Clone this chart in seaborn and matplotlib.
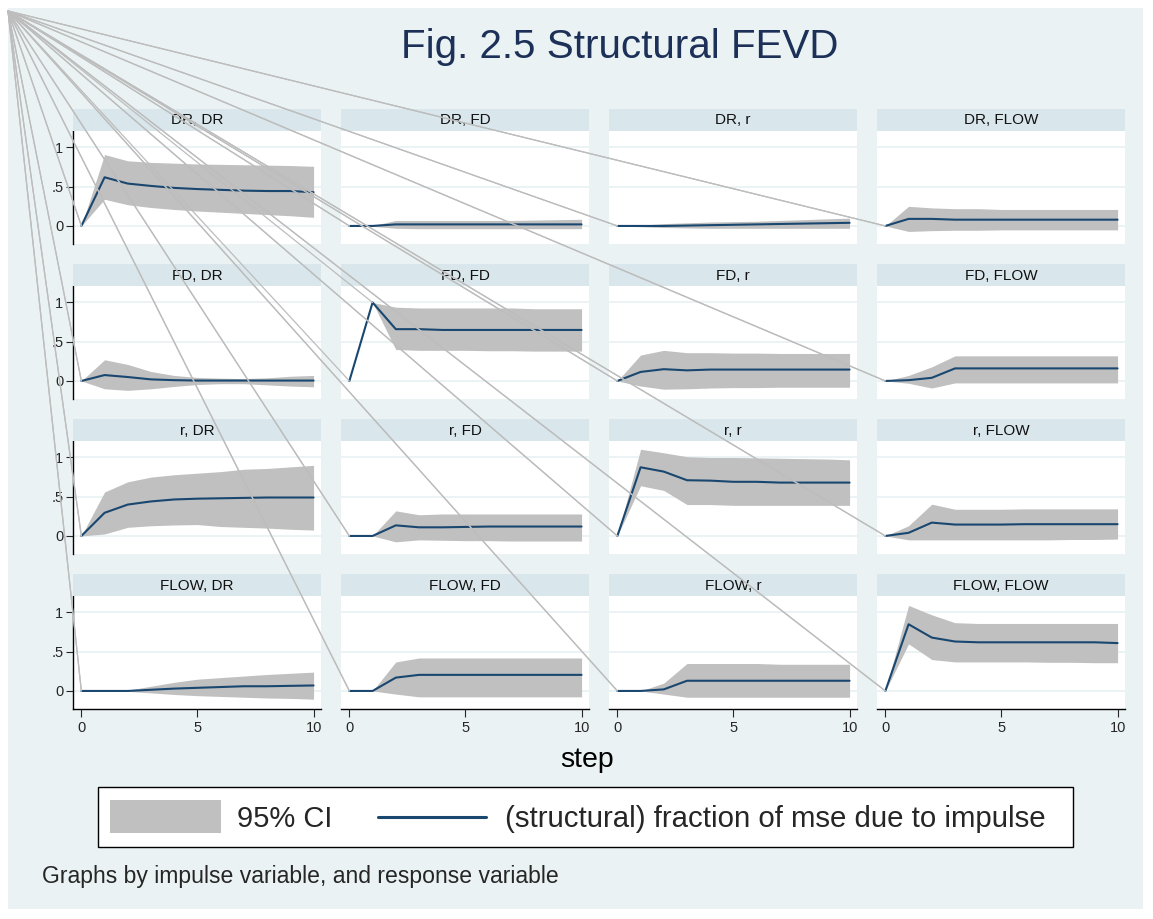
import numpy as np
import matplotlib
matplotlib.use("Agg")
import matplotlib.pyplot as plt
from matplotlib.patches import Rectangle
from matplotlib.lines import Line2D
import seaborn as sns

sns.set_style("white")
plt.rcParams['font.family'] = ['Liberation Sans', 'DejaVu Sans']

nan = np.nan
steps = list(range(11))
impulses = ["DR", "FD", "r", "FLOW"]
responses = ["DR", "FD", "r", "FLOW"]

# ---- data ----
DR_DR_fevd = [0, .62, .54, .51, .485, .47, .46, .45, .445, .445, .43]
DR_DR_lo = [0, .34, .27, .235, .21, .19, .175, .16, .145, .13, .11]
DR_DR_hi = [0, .91, .83, .81, .80, .79, .785, .78, .775, .77, .76]

DR_FD_fevd = [0, 0, .02, .02, .02, .02, .02, .02, .02, .02, .02]
DR_FD_lo = [0, -.005, -.03, -.035, -.035, -.035, -.035, -.035, -.035, -.035, -.035]
DR_FD_hi = [0, .005, .07, .07, .07, .07, .07, .07, .075, .08, .085]

DR_r_fevd = [0, 0, 0, .005, .01, .015, .02, .025, .03, .035, .04]
DR_r_lo = [0, -.01, -.02, -.025, -.03, -.03, -.03, -.03, -.03, -.03, -.03]
DR_r_hi = [0, .01, .03, .04, .05, .055, .06, .07, .08, .09, .10]

DR_FLOW_fevd = [0, .09, .09, .08, .08, .08, .08, .08, .08, .08, .08]
DR_FLOW_lo = [0, -.07, -.06, -.055, -.055, -.05, -.05, -.05, -.05, -.05, -.05]
DR_FLOW_hi = [0, .25, .23, .22, .22, .21, .21, .21, .21, .21, .21]

FD_DR_fevd = [0, .075, .05, .02, .01, .005, .005, .005, .005, .005, .005]
FD_DR_lo = [0, -.10, -.12, -.10, -.07, -.045, -.035, -.035, -.05, -.065, -.075]
FD_DR_hi = [0, .27, .21, .12, .07, .045, .035, .03, .04, .06, .07]

FD_FD_fevd = [0, 1.0, .66, .66, .65, .65, .65, .65, .65, .65, .65]
FD_FD_lo = [nan, 1.0, .40, .39, .39, .39, .385, .385, .38, .38, .38]
FD_FD_hi = [nan, 1.0, .94, .93, .93, .93, .93, .93, .92, .92, .92]

FD_r_fevd = [0, .115, .15, .135, .145, .145, .145, .145, .145, .145, .145]
FD_r_lo = [0, -.065, -.105, -.10, -.09, -.085, -.085, -.08, -.08, -.08, -.08]
FD_r_hi = [0, .33, .39, .36, .36, .355, .355, .35, .35, .35, .35]

FD_FLOW_fevd = [0, .01, .04, .16, .16, .16, .16, .16, .16, .16, .16]
FD_FLOW_lo = [0, -.03, -.09, -.025, -.025, -.025, -.025, -.025, -.025, -.025, -.025]
FD_FLOW_hi = [0, .07, .18, .32, .32, .32, .32, .32, .32, .32, .32]

r_DR_fevd = [0, .295, .40, .44, .465, .475, .48, .485, .49, .49, .49]
r_DR_lo = [0, .025, .11, .13, .14, .145, .12, .11, .10, .085, .075]
r_DR_hi = [0, .56, .69, .75, .78, .80, .82, .85, .86, .88, .90]

r_FD_fevd = [0, 0, .135, .11, .11, .115, .12, .12, .12, .12, .12]
r_FD_lo = [0, 0, -.075, -.05, -.055, -.06, -.06, -.065, -.065, -.065, -.065]
r_FD_hi = [0, 0, .32, .27, .28, .28, .28, .28, .28, .28, .28]

r_r_fevd = [0, .875, .82, .71, .705, .69, .69, .68, .68, .68, .68]
r_r_lo = [0, .64, .58, .40, .40, .39, .39, .39, .39, .39, .39]
r_r_hi = [0, 1.105, 1.06, 1.01, 1.0, 1.0, .995, .99, .985, .98, .97]

r_FLOW_fevd = [0, .04, .17, .145, .145, .145, .15, .15, .15, .15, .15]
r_FLOW_lo = [0, -.05, -.05, -.05, -.05, -.05, -.05, -.05, -.045, -.045, -.04]
r_FLOW_hi = [0, .13, .405, .34, .34, .34, .345, .345, .345, .345, .345]

FLOW_DR_fevd = [0, 0, 0, .015, .03, .04, .05, .06, .06, .065, .07]
FLOW_DR_lo = [0, 0, -.005, -.025, -.045, -.06, -.07, -.08, -.09, -.095, -.105]
FLOW_DR_hi = [0, 0, .01, .06, .11, .15, .17, .19, .21, .225, .24]

FLOW_FD_fevd = [0, 0, .17, .205, .205, .205, .205, .205, .205, .205, .205]
FLOW_FD_lo = [0, 0, -.04, -.075, -.075, -.075, -.075, -.075, -.075, -.075, -.075]
FLOW_FD_hi = [0, 0, .37, .42, .42, .42, .42, .42, .42, .42, .42]

FLOW_r_fevd = [0, 0, .02, .13, .13, .13, .13, .13, .13, .13, .13]
FLOW_r_lo = [0, 0, -.04, -.08, -.08, -.08, -.08, -.08, -.08, -.08, -.08]
FLOW_r_hi = [0, 0, .10, .35, .35, .35, .35, .34, .34, .34, .34]

FLOW_FLOW_fevd = [0, .85, .68, .63, .62, .62, .62, .62, .62, .62, .61]
FLOW_FLOW_lo = [0, .60, .40, .37, .37, .37, .37, .365, .365, .36, .36]
FLOW_FLOW_hi = [0, 1.09, .97, .87, .86, .86, .86, .86, .86, .86, .86]

ytick_vals = [0, .5, 1]
ytick_labels = ["0", ".5", "1"]
xtick_vals = [0, 5, 10]
xtick_labels = ["0", "5", "10"]

g = globals()

# ---- styling ----
W, H = 1153, 919
BG = "#EAF2F3"
STRIP = "#D9E6EB"
CI = "#C0C0C0"
NAVY = "#1A476F"
TITLE_C = "#1C3058"
RAY = "#BDBDBD"

fig = plt.figure(figsize=(W / 100, H / 100), dpi=100, facecolor="white")


def fx(x):
    return x / W


def fy(y):
    return 1 - y / H


fig.add_artist(Rectangle((fx(8), fy(909)), fx(1135), (901) / H,
                         transform=fig.transFigure, facecolor=BG,
                         edgecolor="none", zorder=-10))

col_x0 = 73
col_dx = 268
pw = 248
row_y0 = 131
row_dy = 155
ph = 113
strip_h = 22

axes = {}
for i, imp in enumerate(impulses):
    for j, resp in enumerate(responses):
        x0 = col_x0 + j * col_dx
        y0 = row_y0 + i * row_dy
        ax = fig.add_axes([fx(x0), fy(y0 + ph), pw / W, ph / H])
        ax.set_facecolor("white")
        key = f"{imp}_{resp}"
        lo = np.array(g[key + "_lo"], dtype=float)
        hi = np.array(g[key + "_hi"], dtype=float)
        val = g[key + "_fevd"]
        ax.fill_between(steps, lo, hi, color=CI, lw=0, zorder=1)
        sns.lineplot(x=steps, y=val, ax=ax, color=NAVY, lw=1.5, zorder=2)
        ax.set_xlim(-0.36, 10.32)
        ax.set_ylim(-0.23, 1.21)
        ax.set_yticks(ytick_vals)
        ax.set_xticks(xtick_vals)
        ax.yaxis.grid(True, color=BG, lw=1.3, zorder=0)
        ax.xaxis.grid(False)
        ax.set_axisbelow(True)
        for s in ax.spines.values():
            s.set_visible(False)
        if j == 0:
            ax.spines["left"].set_visible(True)
            ax.spines["left"].set_color("black")
            ax.spines["left"].set_linewidth(1.0)
            ax.set_yticklabels(ytick_labels)
            ax.tick_params(axis="y", left=True, length=5, width=0.8,
                           labelsize=10.5, pad=2, direction="out")
        else:
            ax.tick_params(axis="y", left=False, labelleft=False)
        if i == 3:
            ax.spines["bottom"].set_visible(True)
            ax.spines["bottom"].set_color("black")
            ax.spines["bottom"].set_linewidth(1.0)
            ax.set_xticklabels(xtick_labels)
            ax.tick_params(axis="x", bottom=True, length=6, width=0.8,
                           labelsize=10.5, pad=3, direction="out")
        else:
            ax.tick_params(axis="x", bottom=False, labelbottom=False)
        ax.set_xlabel("")
        ax.set_ylabel("")
        # strip
        fig.add_artist(Rectangle((fx(x0), fy(y0)), pw / W, strip_h / H,
                                 transform=fig.transFigure, facecolor=STRIP,
                                 edgecolor="none", zorder=1))
        fig.text(fx(x0 + pw / 2), fy(y0 - strip_h / 2 + 0.5), f"{imp}, {resp}",
                 ha="center", va="center", fontsize=11, color="#111111")
        axes[key] = (ax, val, lo, hi)

# rays from the graph-region corner to the first point of each series
fig.canvas.draw()
corner = (fx(8), fy(11))
inv = fig.transFigure.inverted()
for key, (ax, val, lo, hi) in axes.items():
    targets = [(steps[0], val[0])]
    k = int(np.argmax(~np.isnan(hi)))
    targets.append((steps[k], hi[k]))
    for (xv, yv) in targets:
        px, py = inv.transform(ax.transData.transform((xv, yv)))
        fig.add_artist(Line2D([corner[0], px], [corner[1], py],
                              transform=fig.transFigure, color=RAY,
                              lw=0.9, zorder=5))

# title and labels
fig.text(fx(620), fy(47), "Fig. 2.5 Structural FEVD", ha="center",
         va="center", fontsize=29.1, color=TITLE_C)
fig.text(fx(587), fy(760), "step", ha="center", va="center", fontsize=20.5,
         color="black")

# legend
fig.add_artist(Rectangle((fx(98), fy(847)), (1073 - 98) / W, 60 / H,
                         transform=fig.transFigure, facecolor="white",
                         edgecolor="black", lw=1.0, zorder=3))
fig.add_artist(Rectangle((fx(110), fy(833)), 111 / W, 33 / H,
                         transform=fig.transFigure, facecolor=CI,
                         edgecolor="none", zorder=4))
fig.text(fx(237), fy(819), "95% CI", ha="left", va="center", fontsize=21,
         zorder=4)
fig.add_artist(Line2D([fx(378), fx(486)], [fy(817), fy(817)],
                      transform=fig.transFigure, color=NAVY, lw=2.2,
                      zorder=4))
fig.text(fx(505), fy(819), "(structural) fraction of mse due to impulse",
         ha="left", va="center", fontsize=21.2, zorder=4)

fig.text(fx(42), fy(876), "Graphs by impulse variable, and response variable",
         ha="left", va="center", fontsize=16.6)

fig.savefig("out.png", dpi=100, facecolor="white")
